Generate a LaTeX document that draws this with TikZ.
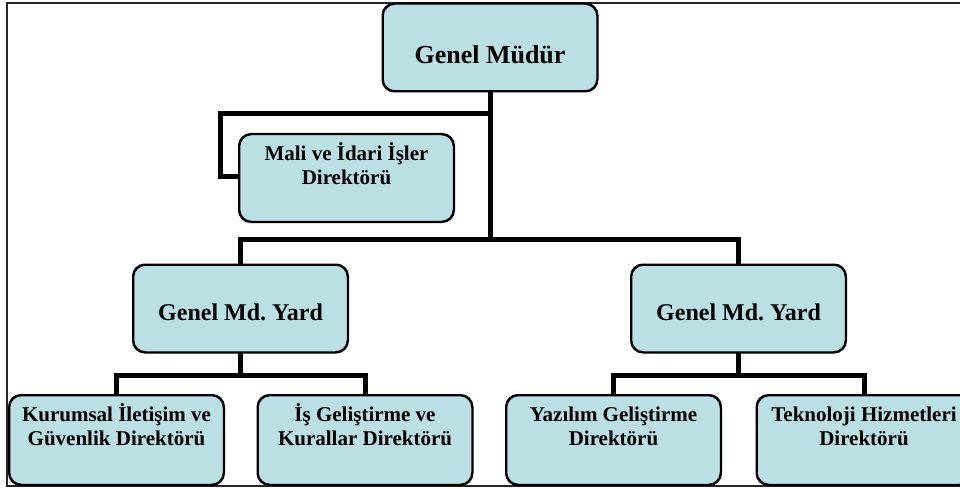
\documentclass[tikz,border=0pt]{standalone}
\usepackage{fontspec}
\setmainfont{Liberation Serif}
\frenchspacing
\definecolor{boxfill}{RGB}{187,224,227}
\tikzset{
  x=1pt, y=-1pt,
  orgbox/.style={draw=black, line width=1.5pt, fill=boxfill, rounded corners=12pt,
    minimum width=214pt, minimum height=87pt, inner sep=0pt},
  bigtxt/.style={font=\fontsize{26}{30}\selectfont\bfseries, inner sep=0pt, anchor=base},
  midtxt/.style={font=\fontsize{24}{28}\selectfont\bfseries, inner sep=0pt, anchor=base},
  smalltxt/.style={font=\fontsize{21}{23.5}\selectfont\bfseries, inner sep=0pt, align=center, anchor=base},
  conn/.style={draw=black, line width=5pt, line join=miter, line cap=butt},
  frame/.style={draw=black!85, line width=2pt}
}
\begin{document}
\begin{tikzpicture}
\useasboundingbox (0,0) rectangle (960,489);
\clip (0,0) rectangle (960,489);
\draw[frame] (7,3) rectangle (975,486);

% boxes
\node[orgbox] (gm) at (490,47.5) {};
\node[orgbox] (mali) at (346.5,178) {};
\node[orgbox] (gmy1) at (240.5,308.5) {};
\node[orgbox] (gmy2) at (738.5,308.5) {};
\node[orgbox, minimum height=89pt] (b1) at (116.5,440) {};
\node[orgbox, minimum height=89pt] (b2) at (365,440) {};
\node[orgbox, minimum height=89pt] (b3) at (613.5,440) {};
\node[orgbox, minimum height=89pt] (b4) at (864,440) {};

% connector helper coordinates
\coordinate (jm) at (490,114);
\coordinate (jmL) at (220,114);
\coordinate (jmD) at (220,177);
\coordinate (j1) at (490,239);
\coordinate (j1L) at (240.5,239);
\coordinate (j1R) at (738.5,239);
\coordinate (j2) at (240.5,375);
\coordinate (j2L) at (116.5,375);
\coordinate (j2R) at (365,375);
\coordinate (j3) at (738.5,375);
\coordinate (j3L) at (613.5,375);
\coordinate (j3R) at (864,375);

\draw[conn] (gm.south) -- ([yshift=2.5pt]j1);
\draw[conn] ([xshift=2pt]jm) -- (jmL) -- (jmD) -- (mali.west |- jmD);
\draw[conn] (gmy1.north) -- (j1L) -- (j1R) -- (gmy2.north);
\draw[conn] (gmy1.south) -- ([yshift=2.5pt]j2);
\draw[conn] (b1.north) -- (j2L) -- (j2R) -- (b2.north);
\draw[conn] (gmy2.south) -- ([yshift=2.5pt]j3);
\draw[conn] (b3.north) -- (j3L) -- (j3R) -- (b4.north);

% box outlines over connector ends
\foreach \n in {gm,mali,gmy1,gmy2,b1,b2,b3,b4}{
  \draw[black, line width=1.5pt, rounded corners=12pt] (\n.north west) rectangle (\n.south east);
}

% texts
\node[bigtxt] (tgm) at (490,64) {Genel Müdür};
\node[smalltxt] (tmali) at (346.5,184) {Mali ve İdari İşler\\Direktörü};
\node[midtxt] (tgmy1) at (240.5,320) {Genel Md. Yard};
\node[midtxt] (tgmy2) at (738.5,320) {Genel Md. Yard};
\node[smalltxt] (tb1) at (116.5,445) {Kurumsal İletişim ve\\Güvenlik Direktörü};
\node[smalltxt] (tb2) at (365,445) {İş Geliştirme ve\\Kurallar Direktörü};
\node[smalltxt] (tb3) at (613.5,445) {Yazılım Geliştirme\\Direktörü};
\node[smalltxt] (tb4) at (864,445) {Teknoloji Hizmetleri\\Direktörü};
\end{tikzpicture}
\end{document}
